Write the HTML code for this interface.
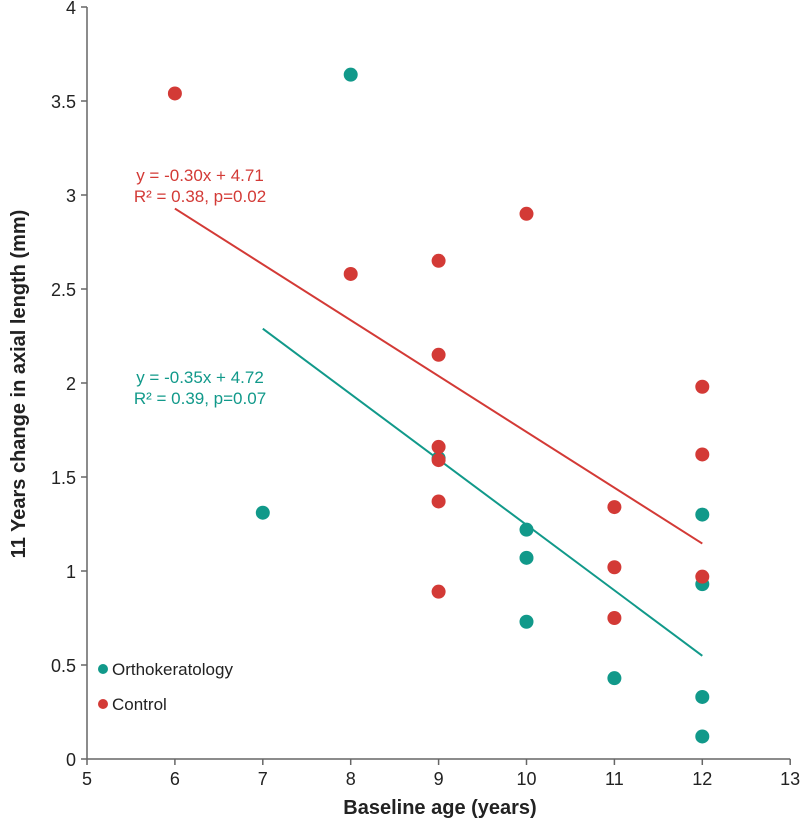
<!DOCTYPE html>
<html><head><meta charset="utf-8"><style>
body{margin:0;background:#fff}
svg{font-family:"Liberation Sans",Arial,sans-serif}
</style></head><body>
<svg id="c" width="800" height="825"></svg>
<script>
const xTicks=[5,6,7,8,9,10,11,12,13];
const yTicks=[0,0.5,1,1.5,2,2.5,3,3.5,4];
const orthoX=[8,7,9,10,10,10,11,12,12,12,12];
const orthoY=[3.64,1.31,1.6,1.22,1.07,0.73,0.43,1.30,0.93,0.33,0.12];
const ctrlX=[6,8,9,9,9,9,9,9,10,11,11,11,12,12,12];
const ctrlY=[3.54,2.58,2.65,2.15,1.66,1.59,1.37,0.89,2.90,1.34,1.02,0.75,1.98,1.62,0.97];
const orthoFit=[-0.348,4.725,7,12];
const ctrlFit=[-0.297,4.71,6,12];
const RED="#d33a36",TEAL="#11998a";
const sx=v=>87+(v-5)*87.9, sy=v=>759-v*188;
const s=document.getElementById('c'),NS="http://www.w3.org/2000/svg";
function el(t,a,txt){const e=document.createElementNS(NS,t);for(const k in a)e.setAttribute(k,a[k]);if(txt!=null)e.textContent=txt;s.appendChild(e);return e;}
let e;
e=el('line',{x1:87,y1:sy(4),x2:87,y2:759,stroke:'#666','stroke-width':1.5});


e=el('line',{x1:87,y1:759,x2:sx(13),y2:759,stroke:'#666','stroke-width':1.5});


yTicks.forEach(v=>{
 el('line',{x1:81,x2:87,y1:sy(v),y2:sy(v),stroke:'#666','stroke-width':1.5});
 e=el('text',{x:76,y:sy(v)+7,'text-anchor':'end','font-size':18,fill:'#222'},String(v));
 
 
});
xTicks.forEach(v=>{
 el('line',{x1:sx(v),x2:sx(v),y1:759,y2:765,stroke:'#666','stroke-width':1.5});
 e=el('text',{x:sx(v),y:785,'text-anchor':'middle','font-size':18,fill:'#222'},String(v));
 
 
});
e=el('text',{x:440,y:814,'text-anchor':'middle','font-size':20,'font-weight':'bold',fill:'#222'},'Baseline age (years)');


e=el('text',{x:0,y:0,transform:'translate(25,384) rotate(-90)','text-anchor':'middle','font-size':20,'font-weight':'bold',fill:'#222'},'11 Years change in axial length (mm)');


function fit(f,c,name){const[m,b,a,z]=f;
 e=el('line',{x1:sx(a),y1:sy(m*a+b),x2:sx(z),y2:sy(m*z+b),stroke:c,'stroke-width':2});
 
 }
fit(ctrlFit,RED,'control-trendline');
fit(orthoFit,TEAL,'ortho-trendline');
orthoX.forEach((x,i)=>{e=el('circle',{cx:sx(x),cy:sy(orthoY[i]),r:7,fill:TEAL});
 
 });
ctrlX.forEach((x,i)=>{e=el('circle',{cx:sx(x),cy:sy(ctrlY[i]),r:7,fill:RED});
 
 });
e=el('text',{x:200,y:181,'text-anchor':'middle','font-size':17,fill:RED},'y = -0.30x + 4.71');


e=el('text',{x:200,y:202,'text-anchor':'middle','font-size':17,fill:RED},'R² = 0.38, p=0.02');


e=el('text',{x:200,y:383,'text-anchor':'middle','font-size':17,fill:TEAL},'y = -0.35x + 4.72');


e=el('text',{x:200,y:404,'text-anchor':'middle','font-size':17,fill:TEAL},'R² = 0.39, p=0.07');


el('circle',{cx:103,cy:669,r:5,fill:TEAL});
e=el('text',{x:112,y:675,'font-size':17,fill:'#222'},'Orthokeratology');


el('circle',{cx:103,cy:704,r:5,fill:RED});
e=el('text',{x:112,y:710,'font-size':17,fill:'#222'},'Control');


</script>
</body></html>
